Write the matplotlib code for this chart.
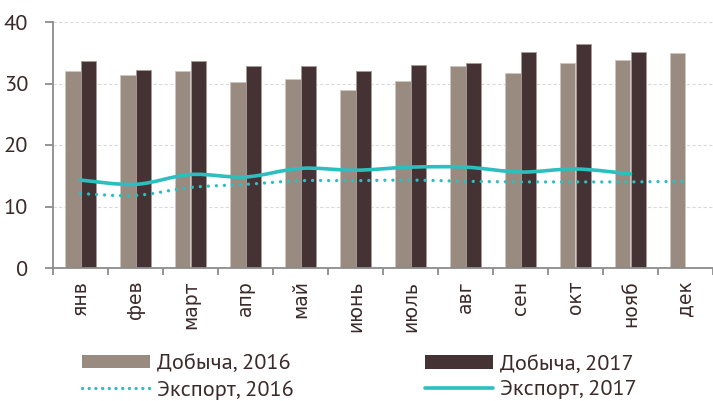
import matplotlib
matplotlib.use("Agg")
import matplotlib.pyplot as plt
import numpy as np
from matplotlib.path import Path
from matplotlib.patches import PathPatch, Patch
from matplotlib.lines import Line2D

months = ["янв", "фев", "март", "апр", "май", "июнь", "июль", "авг", "сен", "окт", "нояб", "дек"]
prod_2016 = [32.1, 31.4, 32.0, 30.2, 30.7, 29.0, 30.4, 32.8, 31.7, 33.3, 33.8, 35.0]
prod_2017 = [33.6, 32.2, 33.7, 32.9, 32.8, 32.1, 33.0, 33.3, 35.1, 36.5, 35.2]
exp_2016 = [12.1, 11.8, 13.1, 13.6, 14.2, 14.2, 14.3, 14.1, 14.0, 14.0, 14.0, 14.1]
exp_2017 = [14.3, 13.6, 15.2, 14.8, 16.2, 15.9, 16.4, 16.4, 15.6, 16.1, 15.3]
labels = ["Добыча, 2016", "Добыча, 2017", "Экспорт, 2016", "Экспорт, 2017"]

c16 = "#998B80"
c17 = "#453234"
cteal = "#2BBFBF"
txt = "#3B2A2A"
sans = ["PT Sans", "DejaVu Sans"]

fig = plt.figure(figsize=(7.13, 4.01), dpi=100)
ax = fig.add_axes([53/713, 1-268/401, 1-53/713, (268-22)/401])

x16 = np.arange(len(prod_2016))
x17 = np.arange(len(prod_2017))
w = 0.28
ax.bar(x16 - w/2, prod_2016, w, color=c16, edgecolor="#cfc6bf", linewidth=0.6, zorder=2)
ax.bar(x17 + w/2, prod_2017, w, color=c17, edgecolor="#a89a95", linewidth=0.6, zorder=2)

def smooth_path(xs, ys):
    pts = np.column_stack([xs, ys]).astype(float)
    n = len(pts)
    verts = [pts[0]]
    codes = [Path.MOVETO]
    for i in range(n - 1):
        p0 = pts[i - 1] if i > 0 else pts[i]
        p1 = pts[i]
        p2 = pts[i + 1]
        p3 = pts[i + 2] if i + 2 < n else pts[i + 1]
        c1 = p1 + (p2 - p0) / 6.0
        c2 = p2 - (p3 - p1) / 6.0
        verts += [c1, c2, p2]
        codes += [Path.CURVE4] * 3
    return Path(verts, codes)

ax.add_patch(PathPatch(smooth_path(x16, exp_2016), fill=False, edgecolor=cteal,
                       linewidth=2.4, linestyle=(0, (0.01, 2.4)), capstyle="round", zorder=3))
ax.add_patch(PathPatch(smooth_path(x17, exp_2017), fill=False, edgecolor=cteal,
                       linewidth=2.6, zorder=3, capstyle="round"))

ax.set_xlim(-0.5, 11.5)
ax.set_ylim(0, 40)
ax.set_yticks([0, 10, 20, 30, 40])
ax.yaxis.grid(True, linestyle=(0, (3, 2)), color="#DADADA", linewidth=0.8, zorder=0)
ax.set_axisbelow(True)

for s in ["top", "right"]:
    ax.spines[s].set_visible(False)
ax.spines["left"].set_color("#8C8C8C")
ax.spines["bottom"].set_color("#8C8C8C")
ax.spines["left"].set_linewidth(1.3)
ax.spines["bottom"].set_linewidth(1.3)

ax.set_xticks(np.arange(12))
ax.set_xticklabels(months, rotation=90, fontsize=13.5, color=txt, family="DejaVu Sans")
ax.tick_params(axis="x", which="major", length=0, pad=9)
ax.set_xticks(np.arange(-0.5, 12, 1), minor=True)
ax.tick_params(axis="x", which="minor", length=5, width=1.3, color="#8C8C8C", direction="out")
ax.tick_params(axis="y", length=6, width=1.3, color="#8C8C8C", labelsize=16, labelcolor=txt, pad=12)
for t in ax.get_yticklabels():
    t.set_family(sans)

h16 = Patch(facecolor=c16, edgecolor="none")
he16 = Line2D([], [], color=cteal, linewidth=2.4, linestyle=(0, (0.01, 2.0)), dash_capstyle="round")
h17 = Patch(facecolor=c17, edgecolor="none")
he17 = Line2D([], [], color=cteal, linewidth=2.6, solid_capstyle="round")

fs = 16
common = dict(loc="center left", frameon=False, handlelength=68/(fs*100/72), handleheight=0.55,
              handletextpad=7/(fs*100/72), labelspacing=0.3, borderaxespad=0, borderpad=0,
              prop={"family": sans, "size": fs})
leg1 = fig.legend([h16, he16], [labels[0], labels[2]], bbox_to_anchor=(82/713, 1-377/401), **common)
leg2 = fig.legend([h17, he17], [labels[1], labels[3]], bbox_to_anchor=(425/713, 1-377/401), **common)
for leg in (leg1, leg2):
    for t in leg.get_texts():
        t.set_color(txt)

fig.savefig("out.png", dpi=100)
